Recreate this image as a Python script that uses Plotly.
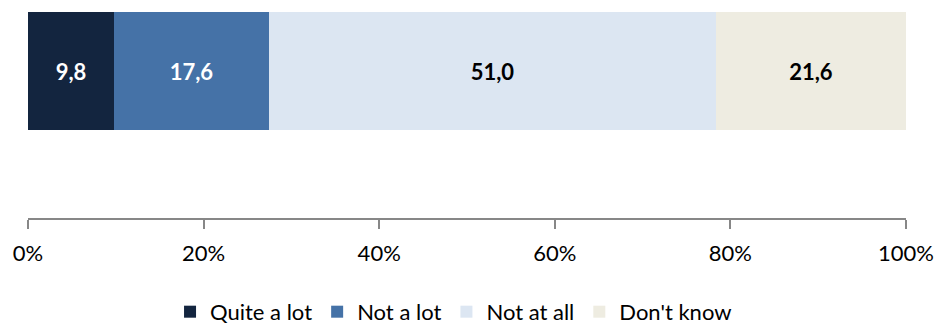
import plotly.graph_objects as go

categories = [""]
series_names = ["Quite a lot", "Not a lot", "Not at all", "Don't know"]
series_values = [[9.8], [17.6], [51.0], [21.6]]
colors = ["#13253F", "#4572A7", "#DCE6F2", "#EEECE1"]
text_colors = ["white", "white", "black", "black"]
tick_vals = [0, 20, 40, 60, 80, 100]
tick_text = ["0%", "20%", "40%", "60%", "80%", "100%"]

fig = go.Figure()
for name, vals, col, tcol in zip(series_names, series_values, colors, text_colors):
    fig.add_trace(go.Bar(
        y=[0] * len(vals), x=vals, name=name, orientation="h",
        marker=dict(color=col, line=dict(width=0)),
        texttemplate="<b>%{x:.1f}</b>", textposition="inside",
        insidetextanchor="middle",
        textfont=dict(color=tcol, size=22, family="Lato"),
        hoverinfo="skip",
    ))

fig.update_layout(
    barmode="stack", bargap=0,
    separators=",.",
    width=939, height=329,
    margin=dict(l=28, r=33, t=12, b=111, autoexpand=False),
    paper_bgcolor="white", plot_bgcolor="white",
    font=dict(family="Lato", size=22, color="black"),
    uniformtext=dict(mode="show", minsize=22),
    xaxis=dict(range=[0, 100], tickvals=tick_vals, ticktext=tick_text,
               showgrid=False, zeroline=False, showline=True,
               linecolor="#878787", linewidth=1.5, ticks="outside",
               ticklen=9, tickcolor="#878787", tickwidth=1.5,
               ticklabelstandoff=6,
               tickfont=dict(size=22, family="Lato"), fixedrange=True,
               automargin=False),
    yaxis=dict(range=[-1.25, 0.5], visible=False, fixedrange=True),
    legend=dict(orientation="h", xref="container", yref="container",
                x=0.483, xanchor="center", y=0.052, yanchor="middle",
                font=dict(size=22, family="Lato"), traceorder="normal",
                itemwidth=30, tracegroupgap=0),
    showlegend=True,
)

fig.write_html("out.html")
